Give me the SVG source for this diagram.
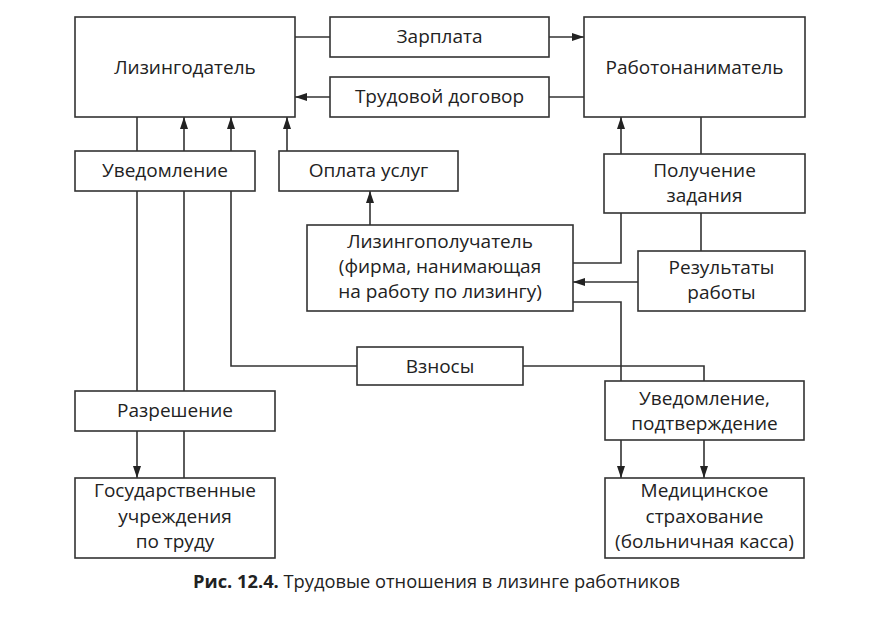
<svg xmlns="http://www.w3.org/2000/svg" width="869" height="621" viewBox="0 0 869 621">
<style>
.box{fill:#fff;stroke:#333;stroke-width:1.6}
.c{fill:none;stroke:#333;stroke-width:1.6}
text{font-family:"Open Sans","Noto Sans","Liberation Sans",sans-serif;font-size:19px;fill:#222;text-anchor:middle}
.cap{font-size:18.3px;text-anchor:start}
</style>
<defs>
<marker id="ah" viewBox="0 0 12 8" refX="12" refY="4" markerWidth="12" markerHeight="8" markerUnits="userSpaceOnUse" orient="auto">
<path d="M0,0 L12,4 L0,8 Z" fill="#222"/>
</marker>
</defs>
<rect width="869" height="621" fill="#fff"/>
<g id="connectors">
<path class="c" d="M295,37 H330"/>
<path class="c" d="M549,37 H584" marker-end="url(#ah)"/>
<path class="c" d="M584,97 H549"/>
<path class="c" d="M330,97 H295" marker-end="url(#ah)"/>
<path class="c" d="M137,117 V151"/>
<path class="c" d="M137,191 V391"/>
<path class="c" d="M137,431 V478" marker-end="url(#ah)"/>
<path class="c" d="M184,151 V117" marker-end="url(#ah)"/>
<path class="c" d="M184,391 V191"/>
<path class="c" d="M184,478 V431"/>
<path class="c" d="M231,151 V117" marker-end="url(#ah)"/>
<path class="c" d="M231,191 V366 H357"/>
<path class="c" d="M287,151 V117" marker-end="url(#ah)"/>
<path class="c" d="M370,225 V191" marker-end="url(#ah)"/>
<path class="c" d="M573,263 H621 V213"/>
<path class="c" d="M621,154 V117" marker-end="url(#ah)"/>
<path class="c" d="M701,117 V154"/>
<path class="c" d="M701,213 V251"/>
<path class="c" d="M638,282 H573" marker-end="url(#ah)"/>
<path class="c" d="M573,302 H621 V381"/>
<path class="c" d="M621,440 V478" marker-end="url(#ah)"/>
<path class="c" d="M523,366 H704 V381"/>
<path class="c" d="M704,440 V478" marker-end="url(#ah)"/>
</g>
<g id="lessor"><rect class="box" x="75" y="17" width="220" height="100"/><text x="185" y="74">Лизингодатель</text></g>
<g id="salary"><rect class="box" x="330" y="17" width="219" height="40"/><text x="439.5" y="43">Зарплата</text></g>
<g id="contract"><rect class="box" x="330" y="77" width="219" height="40"/><text x="439.5" y="103">Трудовой договор</text></g>
<g id="employer"><rect class="box" x="584" y="17" width="221" height="100"/><text x="694.5" y="74">Работонаниматель</text></g>
<g id="notice"><rect class="box" x="75" y="151" width="180" height="40"/><text x="165" y="177">Уведомление</text></g>
<g id="payment"><rect class="box" x="279" y="151" width="179" height="40"/><text x="368.5" y="177">Оплата услуг</text></g>
<g id="task"><rect class="box" x="604" y="154" width="201" height="59"/><text x="704.5" y="177">Получение</text><text x="704.5" y="202">задания</text></g>
<g id="lessee"><rect class="box" x="307" y="225" width="266" height="86"/><text x="440" y="248">Лизингополучатель</text><text x="440" y="273">(фирма, нанимающая</text><text x="440" y="298">на работу по лизингу)</text></g>
<g id="results"><rect class="box" x="638" y="251" width="167" height="60"/><text x="721.5" y="274">Результаты</text><text x="721.5" y="299">работы</text></g>
<g id="contrib"><rect class="box" x="357" y="347" width="166" height="38"/><text x="440" y="373">Взносы</text></g>
<g id="permit"><rect class="box" x="75" y="391" width="200" height="40"/><text x="175" y="417">Разрешение</text></g>
<g id="confirm"><rect class="box" x="605" y="381" width="199" height="59"/><text x="704.5" y="405">Уведомление,</text><text x="704.5" y="430">подтверждение</text></g>
<g id="labour"><rect class="box" x="75" y="478" width="200" height="80"/><text x="175" y="497">Государственные</text><text x="175" y="523">учреждения</text><text x="175" y="548">по труду</text></g>
<g id="medical"><rect class="box" x="605" y="478" width="199" height="80"/><text x="704.5" y="497">Медицинское</text><text x="704.5" y="523">страхование</text><text x="704.5" y="548">(больничная касса)</text></g>
<text class="cap" x="193" y="588"><tspan font-weight="bold">Рис. 12.4.</tspan> Трудовые отношения в лизинге работников</text>
</svg>
